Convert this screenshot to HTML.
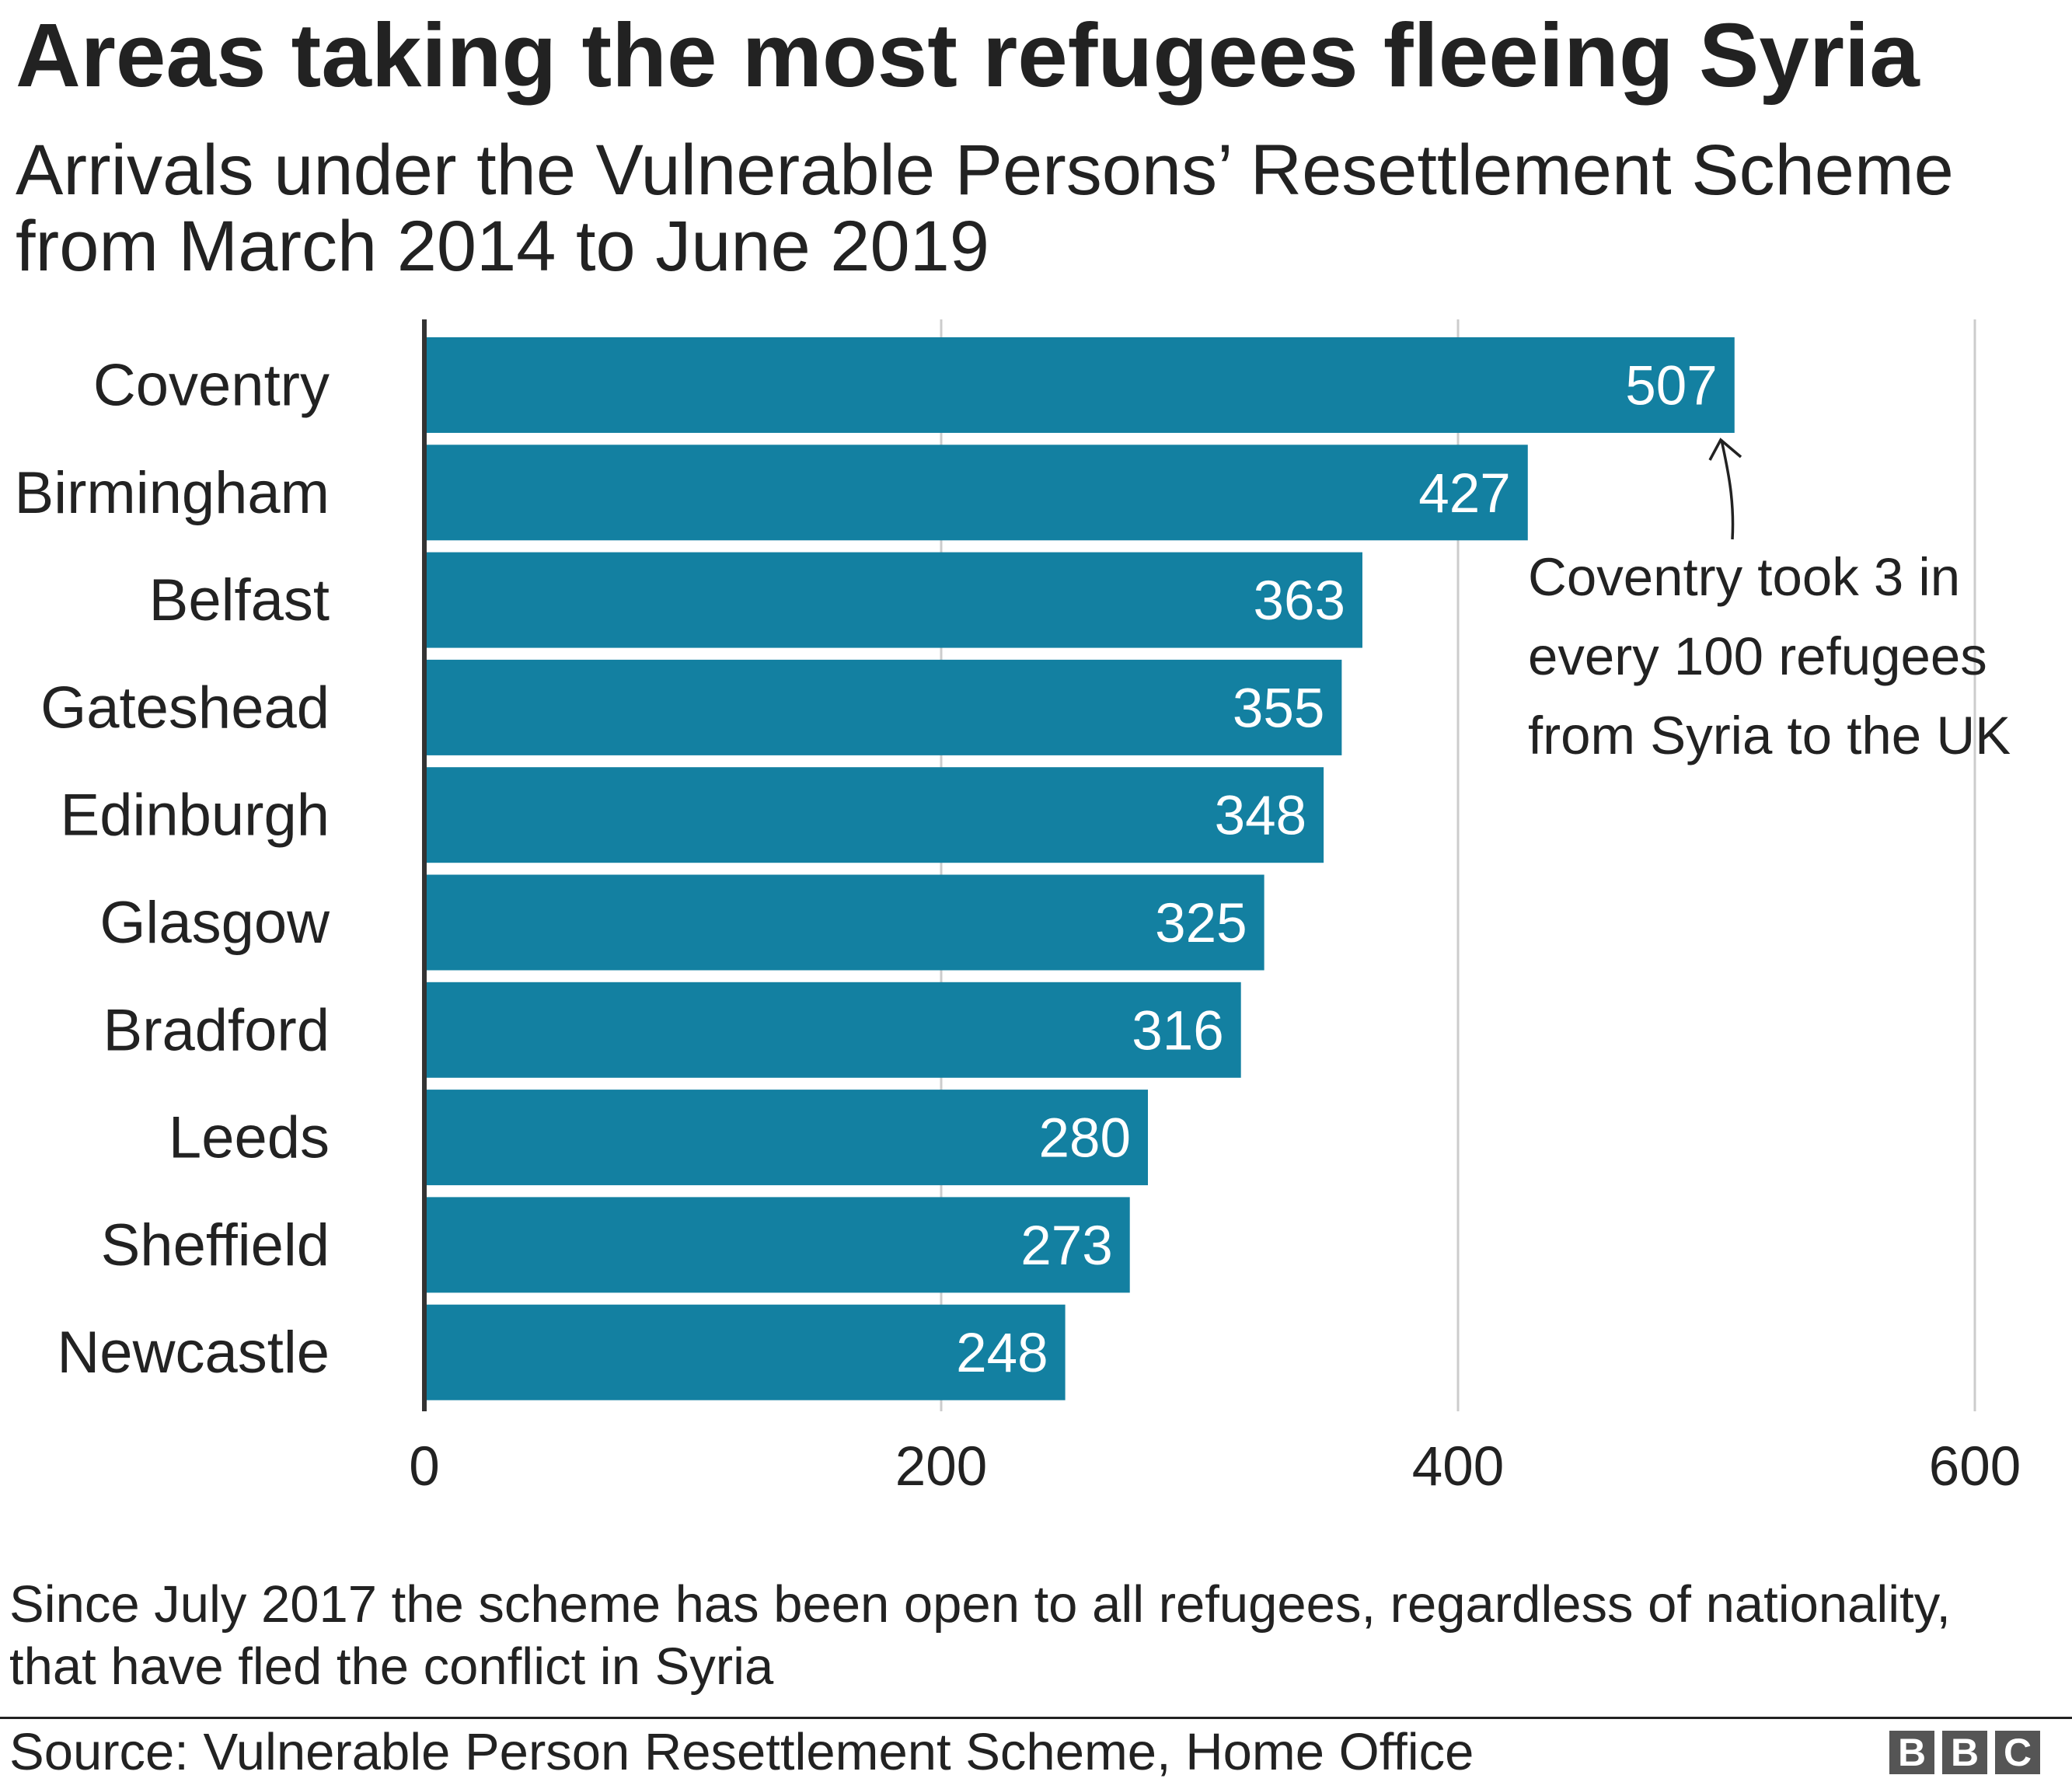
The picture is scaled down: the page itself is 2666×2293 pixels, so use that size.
<!DOCTYPE html>
<html><head><meta charset="utf-8"><style>
html,body{margin:0;padding:0;background:#fff;}
body{width:2666px;height:2291px;position:relative;overflow:hidden;font-family:"Liberation Sans",Arial,sans-serif;color:#222;}
.t{position:absolute;white-space:nowrap;}
</style></head><body>
<div class="t" style="left:20px;top:4px;font-size:116px;font-weight:bold;color:#222;">Areas taking the most refugees fleeing Syria</div>
<div class="t" style="left:20px;top:170px;font-size:92px;line-height:98px;color:#222;">Arrivals under the Vulnerable Persons’ Resettlement Scheme<br>from March 2014 to June 2019</div>
<svg id="chart" width="2666" height="2291" style="position:absolute;left:0;top:0;" font-family="Liberation Sans, Arial, sans-serif"></svg>
<div class="t" style="left:12px;top:2025px;font-size:67px;line-height:80px;color:#222;">Since July 2017 the scheme has been open to all refugees, regardless of nationality,<br>that have fled the conflict in Syria</div>
<div style="position:absolute;left:0;top:2209px;width:2666px;height:3px;background:#222;"></div>
<div class="t" style="left:12px;top:2216px;font-size:67px;color:#222;">Source: Vulnerable Person Resettlement Scheme, Home Office</div>
<div style="position:absolute;left:2431px;top:2227px;display:flex;gap:10px;">
<div style="width:58px;height:56px;background:#555;color:#fff;font-weight:bold;font-size:50px;text-align:center;line-height:56px;">B</div>
<div style="width:58px;height:56px;background:#555;color:#fff;font-weight:bold;font-size:50px;text-align:center;line-height:56px;">B</div>
<div style="width:58px;height:56px;background:#555;color:#fff;font-weight:bold;font-size:50px;text-align:center;line-height:56px;">C</div>
</div>
<script>
const categories=["Coventry","Birmingham","Belfast","Gateshead","Edinburgh","Glasgow","Bradford","Leeds","Sheffield","Newcastle"];
const values=[507,427,363,355,348,325,316,280,273,248];
const ticks=[0,200,400,600];
const NS="http://www.w3.org/2000/svg";
const svg=document.getElementById('chart');
const x0=546,pxPerUnit=665/200;
const xs=v=>x0+v*pxPerUnit;
const top0=434,pitch=138.3,barH=123;
const ys=i=>top0+i*pitch;
function mk(t,a){const e=document.createElementNS(NS,t);for(const k in a)e.setAttribute(k,a[k]);svg.appendChild(e);return e;}
ticks.forEach(t=>{
 if(t>0){const g=mk('line',{x1:xs(t),x2:xs(t),y1:411,y2:1816,stroke:'#ccc','stroke-width':3});
 
 }
 const l=mk('text',{x:xs(t),y:1911,'font-size':71,'text-anchor':'middle',fill:'#222'});
 l.textContent=t;
 
 
});
categories.forEach((c,i)=>{
 const r=mk('rect',{x:x0,y:ys(i),width:xs(values[i])-x0,height:barH,fill:'#1380a1'});
 
 
 const cl=mk('text',{x:424,y:ys(i)+barH/2+26,'font-size':76,'text-anchor':'end',fill:'#222'});
 cl.textContent=c;
 
 
 const vl=mk('text',{x:xs(values[i])-22,y:ys(i)+barH/2+25,'font-size':71,'text-anchor':'end',fill:'#fff'});
 vl.textContent=values[i];
 
 
});
const ax=mk('line',{x1:x0,x2:x0,y1:411,y2:1816,stroke:'#333','stroke-width':6});


const ar=mk('path',{d:'M2229 694 C2232 640 2222 600 2215 566 M2200 592 L2214 566 L2240 588',fill:'none',stroke:'#222','stroke-width':3.5});


["Coventry took 3 in","every 100 refugees","from Syria to the UK"].forEach((s,i)=>{
 const t=mk('text',{x:1966,y:766+i*102,'font-size':69,fill:'#222'});
 t.textContent=s;
 
 
});
</script>
</body></html>
